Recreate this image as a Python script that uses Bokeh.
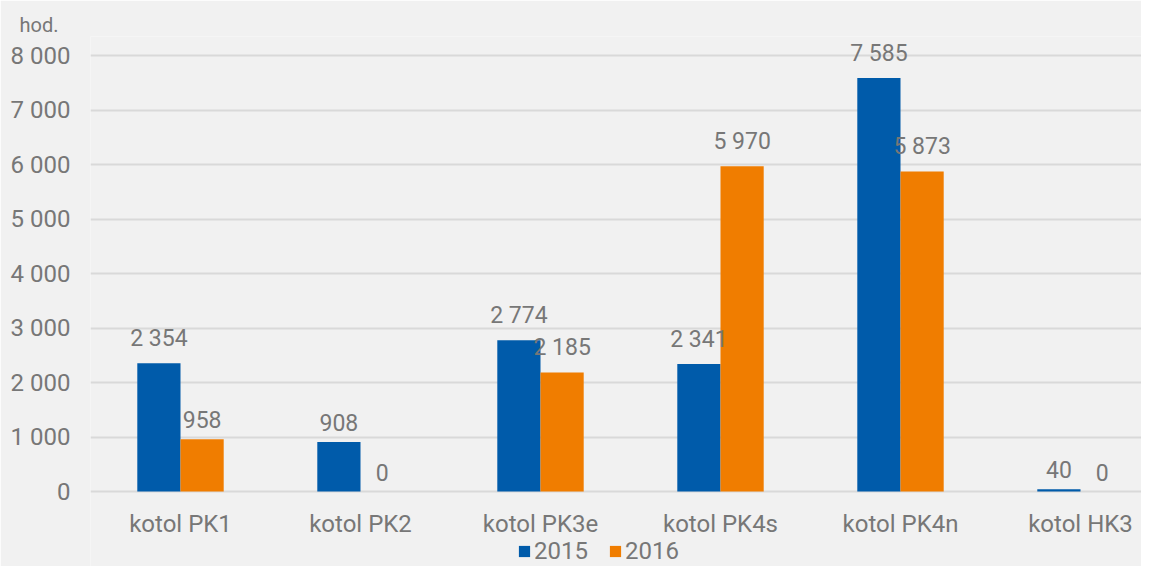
from bokeh.plotting import figure
from bokeh.models import ColumnDataSource, Range1d, FixedTicker, Legend, LegendItem, Title
from bokeh.transform import dodge
from bokeh.core.properties import value
from bokeh.embed import file_html
from bokeh.resources import INLINE

categories = ["kotol PK1", "kotol PK2", "kotol PK3e", "kotol PK4s", "kotol PK4n", "kotol HK3"]
hours_2015 = [2354, 908, 2774, 2341, 7585, 40]
hours_2016 = [958, 0, 2185, 5970, 5873, 0]
series = ["2015", "2016"]
colors = ["#005BAA", "#F07D00"]
y_ticks = [0, 1000, 2000, 3000, 4000, 5000, 6000, 7000, 8000]
y_tick_labels = ["0", "1 000", "2 000", "3 000", "4 000", "5 000", "6 000", "7 000", "8 000"]
unit_label = "hod."

def fmt(v):
    return f"{v:,}".replace(",", " ")

pos = list(range(1, len(categories) + 1))
src = ColumnDataSource(dict(
    x=pos, cat=categories,
    a=hours_2015, b=hours_2016,
    la=[fmt(v) for v in hours_2015], lb=[fmt(v) for v in hours_2016],
))

FONT = "Roboto"
GRAY = "#777777"
BG = "#f1f1f1"

W, H = 1141, 566
LEFT, TOP = 90, 36
ZERO_Y = 491            # pixel row of the value 0
frame_w = W - LEFT
cat_px = 180.0
px_per_unit = 0.0545

p = figure(width=W, height=H, output_backend="svg", toolbar_location=None,
           x_axis_location=None,
           x_range=Range1d(0.5, 0.5 + frame_w / cat_px),
           y_range=Range1d(-(H - ZERO_Y) / px_per_unit, (ZERO_Y - TOP) / px_per_unit),
           min_border_left=LEFT, min_border_right=0, min_border_top=TOP, min_border_bottom=0)
p.background_fill_color = BG
p.border_fill_color = BG
p.outline_line_color = None

p.title = Title(text=unit_label, align="left", offset=-71, standoff=0,
                text_font=FONT, text_font_size="20px", text_font_style="normal",
                text_color=GRAY)

bw = 0.24
r1 = p.vbar(x=dodge("x", -bw / 2), top="a", width=bw, source=src, color=colors[0], line_color=None)
r2 = p.vbar(x=dodge("x", bw / 2), top="b", width=bw, source=src, color=colors[1], line_color=None)

for col, off in (("la", -bw / 2), ("lb", bw / 2)):
    top = "a" if col == "la" else "b"
    p.text(x=dodge("x", off), y=top, text=col, source=src, text_align="center",
           text_baseline="bottom", y_offset=-11, text_font=value(FONT),
           text_font_size="23px", text_color=GRAY)

# category labels under the zero line
p.text(x="x", y=0, text="cat", source=src, text_align="center", text_baseline="middle",
       y_offset=32, text_font=value(FONT), text_font_size="24px", text_color=GRAY)

p.yaxis.ticker = FixedTicker(ticks=y_ticks)
p.yaxis.major_label_overrides = {t: l for t, l in zip(y_ticks, y_tick_labels)}
p.yaxis.major_label_text_font = FONT
p.yaxis.major_label_text_font_size = "24px"
p.yaxis.major_label_text_color = GRAY
p.yaxis.major_label_standoff = 14
p.yaxis.axis_line_color = None
p.yaxis.major_tick_line_color = None
p.yaxis.minor_tick_line_color = None

p.xgrid.grid_line_color = None
p.ygrid.grid_line_color = "#d9d9d9"
p.ygrid.grid_line_width = 2

legend = Legend(items=[LegendItem(label=series[0], renderers=[r1]),
                       LegendItem(label=series[1], renderers=[r2])],
                orientation="horizontal", location=(427, 1),
                label_text_font=FONT, label_text_font_size="24px", label_text_color=GRAY,
                glyph_width=14, glyph_height=14, spacing=20, padding=0, margin=0,
                label_standoff=3, background_fill_alpha=0, border_line_color=None)
p.add_layout(legend, "center")

open("out.html", "w").write(file_html(p, INLINE))
